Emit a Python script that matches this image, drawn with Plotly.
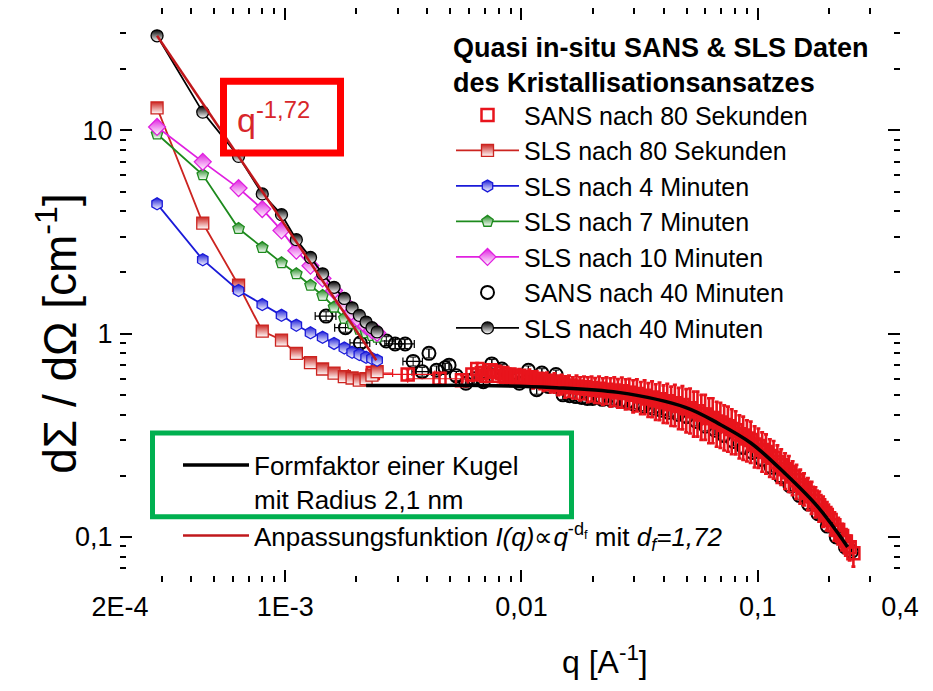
import plotly.graph_objects as go
import math

# ---------------- data ----------------
# SLS: common q grid (A^-1)
q_sls = [2.87e-4, 4.48e-4, 6.35e-4, 8.0e-4, 9.65e-4, 1.115e-3, 1.28e-3, 1.44e-3,
         1.61e-3, 1.78e-3, 1.92e-3, 2.06e-3, 2.20e-3, 2.33e-3, 2.45e-3]
sls_80s = [12.9, 3.5, 1.73, 1.03, 0.93, 0.80, 0.72, 0.67, 0.64, 0.615, 0.605, 0.59, 0.60, 0.625, 0.65]
sls_4min = [4.35, 2.31, 1.63, 1.39, 1.23, 1.10, 1.01, 0.96, 0.895, 0.85, 0.81, 0.79, 0.765, 0.755, 0.74]
sls_7min = [9.6, 6.05, 3.29, 2.65, 2.23, 1.97, 1.73, 1.54, 1.35, 1.19, 1.12, 1.05, 1.01, 0.98, 0.96]
sls_10min = [10.4, 7.0, 5.2, 4.1, 3.22, 2.56, 2.16, 1.87, 1.63, 1.42, 1.27, 1.16, 1.09, 1.04, 1.01]
sls_40min = [29.2, 12.3, 7.45, 4.87, 3.85, 2.9, 2.37, 1.97, 1.69, 1.49, 1.34, 1.23, 1.14, 1.07, 1.02]

# SANS after 80 s (open red squares)
sans80_q = [2.35e-3, 3.3e-3, 4.5e-3, 5.6e-3,
            6.2e-3, 6.5e-3, 6.8e-3, 7.1e-3, 7.4e-3, 7.7e-3, 8.0e-3, 8.3e-3, 8.6e-3, 8.9e-3,
            9.2e-3, 9.5e-3, 9.8e-3, 0.0101, 0.0104, 0.0108, 0.0112, 0.0116, 0.012, 0.0124,
            0.0128, 0.0133, 0.0138, 0.0143, 0.0148, 0.0153, 0.0159, 0.0165, 0.0171, 0.0177,
            0.0184, 0.0191, 0.0198, 0.0205, 0.0213, 0.0221, 0.0229, 0.0238, 0.0247, 0.0256,
            0.0266, 0.0276, 0.0286, 0.0297, 0.0308, 0.032, 0.0332, 0.0344, 0.0357, 0.037,
            0.0384, 0.0399, 0.0414, 0.043, 0.0446, 0.0463, 0.048, 0.0498, 0.0517, 0.0536,
            0.0556, 0.0577, 0.0599, 0.0622, 0.0645, 0.067, 0.0695, 0.0721, 0.0748, 0.0776,
            0.0806, 0.0836, 0.0868, 0.09, 0.0934, 0.097, 0.1006, 0.1044, 0.1084, 0.1125,
            0.1167, 0.1211, 0.1257, 0.1305, 0.1354, 0.1405, 0.1458, 0.1513, 0.157, 0.163,
            0.169, 0.1755, 0.182, 0.189, 0.196, 0.2035, 0.211, 0.219, 0.2275, 0.236,
            0.245, 0.254]
sans80_I = [0.64, 0.63, 0.60, 0.59,
            0.63, 0.67, 0.64, 0.62, 0.66, 0.65, 0.62, 0.64, 0.61, 0.63,
            0.62, 0.60, 0.62, 0.61, 0.60, 0.61, 0.59, 0.60, 0.585, 0.58,
            0.585, 0.57, 0.575, 0.56, 0.565, 0.55, 0.555, 0.545, 0.55, 0.54,
            0.545, 0.535, 0.54, 0.53, 0.535, 0.525, 0.53, 0.52, 0.525, 0.515,
            0.52, 0.51, 0.512, 0.50, 0.505, 0.49, 0.495, 0.48, 0.485, 0.47,
            0.475, 0.46, 0.465, 0.45, 0.455, 0.44, 0.445, 0.43, 0.43, 0.415,
            0.415, 0.40, 0.40, 0.385, 0.385, 0.37, 0.365, 0.355, 0.35, 0.34,
            0.335, 0.32, 0.315, 0.305, 0.30, 0.285, 0.28, 0.268, 0.262, 0.25,
            0.245, 0.233, 0.225, 0.215, 0.208, 0.198, 0.19, 0.18, 0.174, 0.165,
            0.158, 0.15, 0.143, 0.135, 0.128, 0.121, 0.114, 0.108, 0.101, 0.095,
            0.089, 0.083]
sans80_err_pct = [6, 6, 6, 6,
                  7, 7, 7, 7, 7, 7, 7, 7, 7, 7,
                  8, 8, 8, 8, 8, 9, 9, 9, 9, 10,
                  10, 10, 11, 11, 11, 12, 12, 12, 13, 13,
                  13, 14, 14, 14, 15, 15, 15, 16, 16, 16,
                  17, 17, 17, 18, 18, 18, 19, 19, 20, 20,
                  21, 21, 22, 22, 23, 23, 24, 24, 25, 25,
                  25, 25, 25, 25, 25, 25, 25, 25, 25, 25,
                  24, 24, 24, 23, 23, 23, 22, 22, 22, 21,
                  21, 21, 20, 20, 20, 19, 19, 19, 18, 18,
                  18, 17, 17, 17, 16, 16, 16, 15, 15, 15,
                  14, 14]
sans80_qerr = [5e-4, 1.0e-3, 1.2e-3] + [0] * 103

# SANS after 40 min (open black circles)
sans40_q = [1.49e-3, 1.80e-3, 2.08e-3, 2.68e-3, 2.92e-3, 3.22e-3, 3.48e-3, 3.80e-3, 4.06e-3, 4.37e-3,
            4.75e-3, 4.94e-3, 5.3e-3, 5.82e-3, 6.3e-3, 6.9e-3, 7.49e-3, 8.26e-3, 9.0e-3, 9.8e-3,
            0.0107, 0.0116, 0.0122, 0.013, 0.014, 0.015, 0.016, 0.017, 0.018, 0.019,
            0.02, 0.022, 0.024, 0.026, 0.028, 0.03, 0.033, 0.036, 0.039, 0.042,
            0.046, 0.05, 0.055, 0.06, 0.066, 0.072, 0.079, 0.087, 0.095, 0.104,
            0.114, 0.125, 0.137, 0.15, 0.164, 0.18, 0.197, 0.215, 0.235, 0.25]
sans40_I = [1.22, 1.07, 0.90, 0.92, 0.89, 0.89, 0.73, 0.65, 0.80, 0.66,
            0.68, 0.70, 0.62, 0.57, 0.60, 0.58, 0.71, 0.67, 0.60, 0.57,
            0.66, 0.53, 0.64, 0.55, 0.63, 0.50, 0.495, 0.49, 0.485, 0.48,
            0.48, 0.475, 0.47, 0.465, 0.46, 0.45, 0.44, 0.43, 0.42, 0.41,
            0.40, 0.39, 0.37, 0.35, 0.335, 0.315, 0.295, 0.275, 0.26, 0.24,
            0.22, 0.197, 0.178, 0.16, 0.145, 0.13, 0.113, 0.10, 0.089, 0.085]
sans40_qerr = [1.5e-4, 1.8e-4, 2.0e-4, 2.5e-4, 2.8e-4, 3.0e-4, 3.3e-4, 3.6e-4] + [0] * 52

# sphere form factor (R = 2.1 nm)
ff_q = [2.2e-3, 3.7e-3, 6.8e-3, 0.0134, 0.0257, 0.0494, 0.068, 0.0938, 0.130, 0.180, 0.240]
ff_I = [0.556, 0.556, 0.556, 0.544, 0.514, 0.434, 0.362, 0.289, 0.206, 0.140, 0.0893]

# power-law fit I(q) ~ q^-1.72 (end points of the straight line)
fit_q = [2.87e-4, 2.43e-3]
fit_I = [29.2, 0.74]

x_ticks = [2e-4, 1e-3, 1e-2, 1e-1, 0.4]
x_ticktext = ["2E-4", "1E-3", "0,01", "0,1", "0,4"]
y_ticks = [0.1, 1, 10]
y_ticktext = ["0,1", "1", "10"]

# ---------------- figure ----------------
FONT = "Liberation Sans, Arial, sans-serif"
W, H = 933, 691
L, R, T, B = 120, 33, 6, 109
PW, PH = W - L - R, H - T - B


def px(xp):
    return (xp - L) / PW


def py(yp):
    return (H - B - yp) / PH


fig = go.Figure()

RED = "#e8141c"
# SANS 80 s
fig.add_trace(go.Scatter(
    x=sans80_q, y=sans80_I, mode="markers", name="SANS nach 80 Sekunden",
    marker=dict(symbol="square-open", size=12, color=RED, line=dict(width=2.5)),
    error_y=dict(type="data", array=[i * p / 100 for i, p in zip(sans80_I, sans80_err_pct)],
                 color=RED, thickness=2.6, width=2),
    error_x=dict(type="data", array=sans80_qerr, color=RED, thickness=1.2, width=4),
    legend="legend", legendrank=1, zorder=1))

sls_specs = [
    ("SLS nach 80 Sekunden", sls_80s, "#cc2420", "square", 2),
    ("SLS nach 4 Minuten", sls_4min, "#1a1ad8", "hexagon", 3),
    ("SLS nach 7 Minuten", sls_7min, "#1d8a1d", "pentagon", 4),
    ("SLS nach 10 Minuten", sls_10min, "#e020e0", "diamond", 5),
]
for name, yv, col, sym, rank in sls_specs:
    fig.add_trace(go.Scatter(
        x=q_sls, y=yv, mode="lines+markers", name=name,
        line=dict(color=col, width=1.8),
        marker=dict(symbol=sym, size=12 if sym != "diamond" else 13, color=col,
                    gradient=dict(type="vertical", color="white"),
                    line=dict(color=col, width=1.3)),
        legend="legend", legendrank=rank, zorder=2))

# SANS 40 min
fig.add_trace(go.Scatter(
    x=sans40_q, y=sans40_I, mode="markers", name="SANS nach 40 Minuten",
    marker=dict(symbol="circle-open", size=13, color="black", line=dict(width=2)),
    error_y=dict(type="percent", value=5, color="black", thickness=1, width=3),
    error_x=dict(type="data", array=sans40_qerr, color="black", thickness=1.2, width=4),
    legend="legend", legendrank=6, zorder=0))

fig.add_trace(go.Scatter(
    x=q_sls, y=sls_40min, mode="lines+markers", name="SLS nach 40 Minuten",
    line=dict(color="black", width=1.8),
    marker=dict(symbol="circle", size=12, color="black",
                gradient=dict(type="vertical", color="white"),
                line=dict(color="black", width=1.3)),
    legend="legend", legendrank=7, zorder=2))

# form factor and fit
fig.add_trace(go.Scatter(
    x=ff_q, y=ff_I, mode="lines", line=dict(color="black", width=3.5, shape="spline"),
    name="Formfaktor einer Kugel<br>mit Radius 2,1 nm", legend="legend2", legendrank=1, zorder=3))
fig.add_trace(go.Scatter(
    x=fit_q, y=fit_I, mode="lines", line=dict(color="#c0181c", width=2.5),
    name="Anpassungsfunktion <i>I(q)</i>\u221d<i>q</i><sup>-d<sub>f</sub></sup> mit <i>d<sub>f</sub>=1,72</i>",
    legend="legend2", legendrank=2, zorder=4))

axis_common = dict(
    type="log", showline=True, linewidth=2, linecolor="black", mirror="ticks",
    ticks="inside", ticklen=12, tickwidth=2, tickcolor="black",
    showgrid=False, zeroline=False,
    tickfont=dict(family=FONT, size=27, color="black"),
)

fig.update_layout(
    width=W, height=H,
    margin=dict(l=L, r=R, t=T, b=B),
    paper_bgcolor="white", plot_bgcolor="white",
    font=dict(family=FONT, color="black"),
    xaxis=dict(
        **axis_common,
        range=[math.log10(2e-4), math.log10(0.4)],
        tickmode="array", tickvals=x_ticks, ticktext=x_ticktext,
        minor=dict(ticks="inside", ticklen=6, tickwidth=1.5, tickcolor="black",
                   tickvals=[3e-4, 4e-4, 5e-4, 6e-4, 7e-4, 8e-4, 9e-4,
                             2e-3, 3e-3, 4e-3, 5e-3, 6e-3, 7e-3, 8e-3, 9e-3,
                             0.02, 0.03, 0.04, 0.05, 0.06, 0.07, 0.08, 0.09, 0.2, 0.3]),
    ),
    yaxis=dict(
        **axis_common,
        range=[math.log10(0.06), math.log10(40)],
        tickmode="array", tickvals=y_ticks, ticktext=y_ticktext,
        minor=dict(ticks="inside", ticklen=6, tickwidth=1.5, tickcolor="black",
                   tickvals=[0.07, 0.08, 0.09, 0.2, 0.3, 0.4, 0.5, 0.6, 0.7, 0.8, 0.9,
                             2, 3, 4, 5, 6, 7, 8, 9, 20, 30]),
    ),
    legend=dict(
        x=px(451), y=py(20), xanchor="left", yanchor="top",
        bgcolor="rgba(0,0,0,0)", borderwidth=0,
        font=dict(family=FONT, size=25, color="black"),
        title=dict(text="<b>Quasi in-situ SANS &amp; SLS Daten</b><br><b>des Kristallisationsansatzes</b>",
                   font=dict(family=FONT, size=27, color="black")),
        itemwidth=63, traceorder="normal", tracegroupgap=0,
    ),
    legend2=dict(
        x=px(178), y=py(441), xanchor="left", yanchor="top",
        bgcolor="rgba(0,0,0,0)", borderwidth=0,
        font=dict(family=FONT, size=26, color="black"),
        itemwidth=66, valign="top", traceorder="normal",
    ),
    shapes=[
        dict(type="rect", xref="paper", yref="paper",
             x0=px(223.5), x1=px(340.5), y0=py(151.5), y1=py(79.5),
             line=dict(color="#ff0000", width=7)),
        dict(type="rect", xref="paper", yref="paper",
             x0=px(152.5), x1=px(571.5), y0=py(516.5), y1=py(432.5),
             line=dict(color="#00b050", width=5)),
    ],
    annotations=[
        dict(xref="paper", yref="paper", x=px(235), y=py(116), xanchor="left", yanchor="middle",
             text="q<sup>-1,72</sup>", showarrow=False,
             font=dict(family=FONT, size=34, color="#d8262a")),
        dict(xref="paper", yref="paper", x=px(605), y=py(660), xanchor="center", yanchor="middle",
             text="q [A<sup>-1</sup>]", showarrow=False,
             font=dict(family=FONT, size=32, color="black")),
        dict(xref="paper", yref="paper", x=px(57), y=py(333), xanchor="center", yanchor="middle",
             text="d\u03a3 / d\u03a9 [cm<sup>-1</sup>]", showarrow=False, textangle=-90,
             font=dict(family=FONT, size=46, color="black")),
    ],
)

fig.write_html("out.html")
